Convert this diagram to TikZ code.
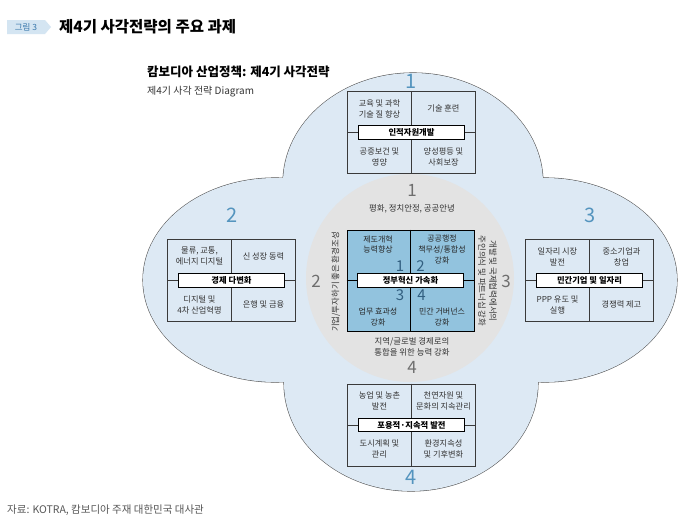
\documentclass[tikz,border=0pt]{standalone}
\usepackage{fontspec}
\setmainfont{Noto Sans CJK KR}
\usetikzlibrary{calc}
\definecolor{petal}{RGB}{221,233,244}
\definecolor{petaledge}{RGB}{85,85,85}
\definecolor{coregray}{RGB}{227,227,227}
\definecolor{coreblue}{RGB}{146,195,222}
\definecolor{numblue}{RGB}{84,148,190}
\definecolor{numgray}{RGB}{110,110,110}
\definecolor{numdark}{RGB}{50,95,128}
\definecolor{txt}{RGB}{51,51,51}
\definecolor{boxedge}{RGB}{58,58,58}
\definecolor{tagbg}{RGB}{212,229,242}
\definecolor{tagtxt}{RGB}{55,118,170}
\definecolor{srcgray}{RGB}{85,85,85}
\newcommand{\fourbox}[8]{%
  \node[gridbox] (#1) at (#2,#3) {};
  \draw[boxline] (#1.north) -- (#1.south);
  \node[bar] (#1bar) at (#1.center) {#4};
  \draw[boxline] (#1.west) -- (#1bar.west);
  \draw[boxline] (#1bar.east) -- (#1.east);
  \node[cell] (#1a) at ([shift={(-32,-24)}]#1.center) {#5};
  \node[cell] (#1b) at ([shift={(32,-24)}]#1.center) {#6};
  \node[cell] (#1c) at ([shift={(-32,24)}]#1.center) {#7};
  \node[cell] (#1d) at ([shift={(32,24)}]#1.center) {#8};
}
\begin{document}
\begin{tikzpicture}[x=1pt,y=-1pt,
  gridbox/.style={draw=boxedge, line width=0.9pt, minimum width=128pt, minimum height=82pt, inner sep=0pt},
  boxline/.style={draw=boxedge, line width=0.9pt},
  bar/.style={draw=black, fill=white, line width=0.8pt, minimum width=106pt, minimum height=13.5pt, inner sep=0pt, font=\fontsize{8.3}{10}\selectfont\bfseries},
  cell/.style={font=\fontsize{8.2}{11}\selectfont, text=txt, align=center, inner sep=0pt},
  corecell/.style={font=\fontsize{8}{10.8}\selectfont, text=black!85, align=center, inner sep=0pt},
  ringtxt/.style={font=\fontsize{8.4}{11}\selectfont, text=txt, align=center, inner sep=0pt},
  outnum/.style={font=\fontsize{20}{22}\selectfont, text=numblue, inner sep=0pt},
  graynum/.style={font=\fontsize{17}{19}\selectfont, text=numgray, inner sep=0pt},
  corenum/.style={font=\fontsize{15}{17}\selectfont, text=numdark, inner sep=0pt},
  petalfill/.style={fill=petal},
  petaldraw/.style={draw=petaledge, line width=1.1pt, fill=petal}
]
\useasboundingbox[fill=white] (0,0) rectangle (697,531);

% header
\fill[tagbg] (7,20) -- (45,20) -- (51,27) -- (45,34) -- (7,34) -- cycle;
\node[text=tagtxt, font=\fontsize{8.5}{10}\selectfont, inner sep=0pt] (tag) at (26,27) {그림 3};
\node[anchor=west, font=\fontsize{15.5}{18}\selectfont\bfseries, inner sep=0pt] (title) at (59,26.5) {제4기 사각전략의 주요 과제};
\node[anchor=west, font=\fontsize{12.5}{15}\selectfont\bfseries, inner sep=0pt] (sub) at (147,72) {캄보디아 산업정책: 제4기 사각전략};
\node[anchor=west, font=\fontsize{10}{12}\selectfont, text=txt, inner sep=0pt] (sub2) at (147,92) {제4기 사각 전략 Diagram};

% petals (union outline)
\path[petaldraw] (413,183) ellipse [x radius=130, y radius=110];
\path[petaldraw] (275,280) ellipse [x radius=132, y radius=102];
\path[petaldraw] (545,280) ellipse [x radius=132, y radius=102];
\path[petaldraw] (411,383) ellipse [x radius=127, y radius=108];
\path[petalfill] (413,183) ellipse [x radius=130, y radius=110];
\path[petalfill] (275,280) ellipse [x radius=132, y radius=102];
\path[petalfill] (545,280) ellipse [x radius=132, y radius=102];
\path[petalfill] (411,383) ellipse [x radius=127, y radius=108];

% core gray circle
\fill[coregray] (410,278) circle [radius=104];

% outer numbers
\node[outnum] (n1) at (411,81) {1};
\node[outnum] (n2) at (232,215) {2};
\node[outnum] (n3) at (590,215) {3};
\node[outnum] (n4) at (411,477) {4};

% outer boxes
\fourbox{bt}{411.5}{132.5}{인적자원개발}{교육 및 과학\\기술 질 향상}{기술 훈련}{공중보건 및\\영양}{양성평등 및\\사회보장}
\fourbox{bl}{231.5}{280.5}{경제 다변화}{물류, 교통,\\에너지 디지털}{신 성장 동력}{디지털 및\\4차 산업혁명}{은행 및 금융}
\fourbox{br}{589.5}{280.5}{민간기업 및 일자리}{일자리 시장\\발전}{중소기업과\\창업}{PPP 유도 및\\실행}{경쟁력 제고}
\fourbox{bb}{411.5}{425}{포용적·지속적 발전}{농업 및 농촌\\발전}{천연자원 및\\문화의 지속관리}{도시계획 및\\관리}{환경지속성\\및 기후변화}

% ring labels
\node[graynum] (g1) at (412,190) {1};
\node[graynum] (g2) at (316,281) {2};
\node[graynum] (g3) at (506,281) {3};
\node[graynum] (g4) at (412,367) {4};
\node[ringtxt] (r1) at (412,209) {평화, 정치안정, 공공안녕};
\node[ringtxt] (r4) at (412,347) {지역/글로벌 경제로의\\통합을 위한 능력 강화};
\node[ringtxt, rotate=90] (r2) at (336,282) {기업/투자하기 좋은 환경조성};
\node[ringtxt, rotate=-90] (r3) at (487.5,281) {개발 및 국제협력에서의\\주인의식 및 파트너십 강화};

% core box
\node[draw=black, fill=coreblue, line width=0.9pt, minimum width=127pt, minimum height=101pt, inner sep=0pt] (core) at (410.5,280.5) {};
\draw[line width=0.9pt] (core.north) -- (core.south);
\node[bar] (corebar) at (core.center) {정부혁신 가속화};
\draw[line width=0.9pt] (core.west) -- (corebar.west);
\draw[line width=0.9pt] (corebar.east) -- (core.east);
\node[corecell] (ca) at ([shift={(-32.5,-36)}]core.center) {제도개혁\\능력향상};
\node[corecell] (cb) at ([shift={(31.5,-31)}]core.center) {공공행정\\책무성/통합성\\강화};
\node[corecell] (cc) at ([shift={(-32.5,36.5)}]core.center) {업무 효과성\\강화};
\node[corecell] (cd) at ([shift={(31.5,36.5)}]core.center) {민간 거버넌스\\강화};
\node[corenum] (c1) at ([shift={(-10.5,-14.5)}]core.center) {1};
\node[corenum] (c2) at ([shift={(10,-14.5)}]core.center) {2};
\node[corenum] (c3) at ([shift={(-10.5,15)}]core.center) {3};
\node[corenum] (c4) at ([shift={(11,15)}]core.center) {4};

% footer
\node[anchor=west, font=\fontsize{10.5}{12}\selectfont, text=srcgray, inner sep=0pt] (src) at (7,510) {자료: KOTRA, 캄보디아 주재 대한민국 대사관};
\end{tikzpicture}
\end{document}
